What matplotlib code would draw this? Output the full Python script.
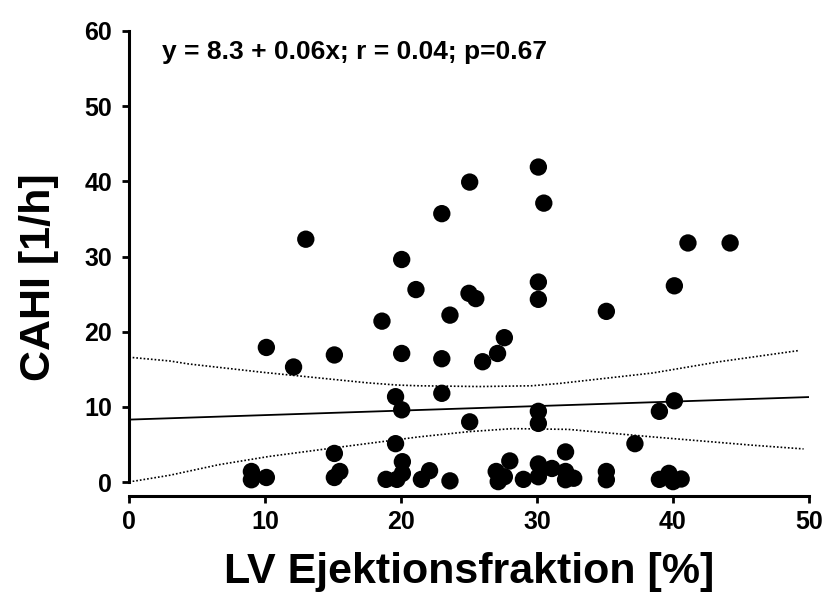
import matplotlib.pyplot as plt

# Streudiagramm CAHI vs. LV-Ejektionsfraktion mit Regressionsgerade und 95%-Band
lvef = [13.0, 23.0, 25.05, 30.1, 30.5, 20.05, 21.1, 25.0, 25.5, 23.6, 18.6, 10.1,
        15.1, 20.05, 23.0, 12.1, 26.0, 27.1, 27.6, 41.1, 44.2, 40.1, 30.1, 30.1, 35.1,
        19.6, 20.05, 23.0, 25.05, 30.1, 30.1, 40.1, 39.0, 37.2, 19.6, 15.1, 32.1,
        9.0, 9.0, 10.1, 15.5, 15.1, 20.1, 20.1, 18.9, 19.7, 21.5, 22.1, 23.6,
        28.0, 27.0, 27.15, 27.6, 29.0, 30.1, 30.1, 31.1, 32.1, 32.1, 32.7,
        35.1, 35.1, 39.0, 39.7, 40.0, 40.6]
cahi = [32.3, 35.7, 39.9, 41.9, 37.1, 29.6, 25.6, 25.1, 24.4, 22.2, 21.4, 17.9,
        16.9, 17.1, 16.4, 15.3, 16.0, 17.1, 19.2, 31.8, 31.8, 26.1, 26.6, 24.3, 22.7,
        11.35, 9.6, 11.8, 8.0, 9.4, 7.8, 10.8, 9.4, 5.1, 5.1, 3.8, 4.0,
        1.4, 0.3, 0.6, 1.4, 0.6, 2.7, 1.15, 0.35, 0.35, 0.35, 1.5, 0.15,
        2.8, 1.4, 0.05, 0.7, 0.35, 2.4, 0.7, 1.8, 1.4, 0.3, 0.5,
        1.4, 0.3, 0.35, 1.15, 0.05, 0.4]

intercept = 8.3
slope = 0.06

# Konfidenzband (obere / untere Grenze)
band_up_x = [0, 3, 4.4, 9.8, 12, 17.5, 19.7, 21.3, 25.8, 29.6, 31.6, 38.5, 43.4, 49.3]
band_up_y = [16.6, 16.1, 15.7, 14.6, 14.2, 13.2, 12.9, 12.8, 12.7, 12.8, 13.1, 14.5, 16.0, 17.5]
band_lo_x = [0, 3, 6.6, 10.3, 14.9, 19.6, 21.3, 25.0, 28.2, 32.3, 38.5, 45.8, 49.6]
band_lo_y = [0.0, 0.9, 2.3, 3.4, 4.5, 5.6, 6.0, 6.7, 7.1, 7.0, 6.0, 4.9, 4.4]

plt.rcParams['font.family'] = 'Liberation Sans'
plt.rcParams['font.weight'] = 'bold'

W, H = 829, 602
fig = plt.figure(figsize=(W / 100, H / 100), dpi=100)
ax = fig.add_axes([129 / W, (H - 482) / H, 680 / W, 451 / H])

ax.set_xlim(0, 50)
ax.set_ylim(0, 60)

x_line = [0, 50]
ax.plot(x_line, [intercept + slope * x for x in x_line], color='black', lw=1.3, zorder=2)
ax.plot(band_up_x, band_up_y, color='black', lw=1.2, linestyle=(0, (1, 1.2)), zorder=2)
ax.plot(band_lo_x, band_lo_y, color='black', lw=1.2, linestyle=(0, (1, 1.2)), zorder=2)

ax.scatter(lvef, cahi, s=156, color='black', edgecolors='none', zorder=3, clip_on=False)

for side in ['top', 'right']:
    ax.spines[side].set_visible(False)
for side in ['left', 'bottom']:
    ax.spines[side].set_linewidth(2.2)
ax.spines['bottom'].set_position(('outward', 10))

ax.set_xticks([0, 10, 20, 30, 40, 50])
ax.set_yticks([0, 10, 20, 30, 40, 50, 60])
ax.tick_params(width=2, length=5, labelsize=18)
ax.tick_params(axis='y', pad=7)
ax.tick_params(axis='x', pad=5)

ax.set_xlabel('LV Ejektionsfraktion [%]', fontsize=31, fontweight='bold')
ax.set_ylabel('CAHI [1/h]', fontsize=31, fontweight='bold')
ax.xaxis.set_label_coords(0.5, -0.155)
ax.yaxis.set_label_coords(-0.103, 0.4545)

ax.text(2.4, 57.2, 'y = 8.3 + 0.06x; r = 0.04; p=0.67', fontsize=19,
        fontweight='bold', ha='left', va='center')

fig.savefig('out.png', dpi=100)
